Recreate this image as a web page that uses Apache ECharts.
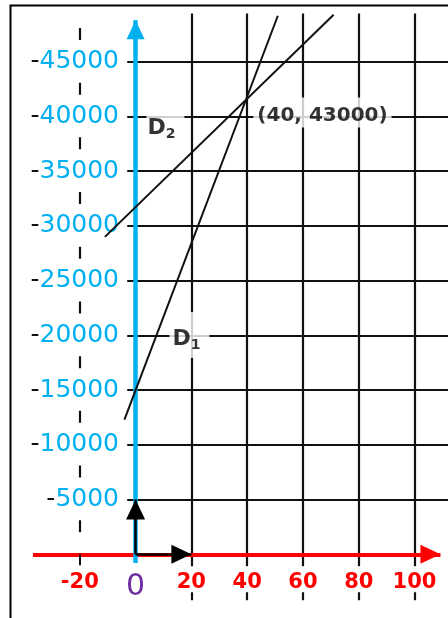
<!DOCTYPE html>
<html lang="en">
<head>
<meta charset="UTF-8">
<title>D1 / D2</title>
<script src="https://cdn.jsdelivr.net/npm/echarts@6/dist/echarts.min.js"></script>
<style>
    html, body { margin: 0; padding: 0; background: #fff; overflow: hidden; }
    #container { width: 448px; height: 618px; }
</style>
</head>
<body>
<div id="container"></div>
<script>
    // ---- data ----
    var xTicks = [-20, 0, 20, 40, 60, 80, 100];
    var yTicks = [5000, 10000, 15000, 20000, 25000, 30000, 35000, 40000, 45000];
    var d1 = [[-4, 12300], [51, 49200]];
    var d2 = [[-11, 29000], [71, 49300]];
    var meet = [40, 43000];
    var unitI = [20, 0];
    var unitJ = [0, 5000];

    // ---- look ----
    var blue = '#00B0F0', red = '#FF0000', purple = '#7030A0', ink = '#111';
    var font = 'DejaVu Sans';
    var xMin = -40, xMax = 112, yMin = -5000, yMax = 50000;

    // how far the drawn lines run
    var hFrom = -3, vTop = 49400, vBottom = -4200, dashTop = 48360;
    var blueFrom = -800, blueTip = 48800, redFrom = -36.8, redTip = 109.3;

    // triangle whose tip sits at the symbol centre
    var arrow = 'path://M0,0 L0,0 M40,0 L40,0 M20,20 L29.5,40 L10.5,40 Z';

    var grid = [];
    yTicks.forEach(function (y) {
        grid.push({ coords: [[hFrom, y], [xMax, y]] });
    });
    xTicks.filter(function (x) { return x > 0; }).forEach(function (x) {
        grid.push({ coords: [[x, vBottom], [x, vTop]] });
    });

    var shadow = {
        textShadowColor: 'rgba(225,135,0,0.75)',
        textShadowBlur: 0,
        textShadowOffsetX: -1,
        textShadowOffsetY: 1
    };

    var richD = {
        d: Object.assign({ fontSize: 22, fontWeight: 'bold', color: '#000', fontFamily: font, lineHeight: 26 }, shadow),
        s: Object.assign({ fontSize: 14, fontWeight: 'bold', color: '#000', fontFamily: font, lineHeight: 14, verticalAlign: 'bottom' }, shadow)
    };

    var notes = [
        { value: [10.7, 39040], text: '{d|D}{s|2}', padding: [2, 9, 0, 1] },
        { value: [19.3, 20035], text: '{d|D}{s|1}', padding: [14, 9, 6, 3] },
        { value: [67, 40360], text: '(' + meet[0] + ', ' + meet[1] + ')', padding: [8, 4, 2, 4] }
    ];

    var dom = document.getElementById('container');
    var myChart = echarts.init(dom, null, { renderer: 'canvas' });

    var option = {
        animation: false,
        backgroundColor: '#fff',
        grid: { left: 24, top: 7, width: 425.6, height: 602, containLabel: false },
        xAxis: {
            type: 'value', min: xMin, max: xMax, interval: 20, offset: -54.7, z: 10,
            axisLine: { show: false, onZero: false },
            splitLine: { show: false },
            axisTick: { show: true, customValues: [-20], length: 11, lineStyle: { color: ink, width: 2 } },
            axisLabel: {
                margin: 12,
                backgroundColor: '#fff',
                padding: [6, 3, 0, 3],
                customValues: xTicks,
                formatter: function (v) {
                    if (xTicks.indexOf(v) < 0) return '';
                    return v === 0 ? '{p|0}' : '{r|' + v + '}';
                },
                rich: {
                    r: { color: red, fontSize: 21, fontWeight: 'bold', fontFamily: font, lineHeight: 20 },
                    p: { color: purple, fontSize: 30, fontFamily: font, lineHeight: 30 }
                }
            }
        },
        yAxis: {
            type: 'value', min: yMin, max: yMax, interval: 5000, offset: -112, z: 1,
            axisLine: { show: false, onZero: false },
            splitLine: { show: false },
            axisTick: { show: false },
            axisLabel: {
                margin: 17,
                customValues: yTicks,
                formatter: function (v) {
                    if (yTicks.indexOf(v) < 0) return '';
                    return '{t|-}{v|' + v + '}';
                },
                rich: {
                    t: { color: ink, fontSize: 25, fontFamily: font },
                    v: { color: blue, fontSize: 25, fontFamily: font }
                }
            }
        },
        graphic: [{
            type: 'rect', left: 8, top: 3, z: 100,
            shape: { width: 500, height: 700 },
            style: { fill: 'none', stroke: '#000', lineWidth: 2 }
        }],
        series: [
            {
                name: 'grid', type: 'lines', coordinateSystem: 'cartesian2d', z: 2,
                lineStyle: { color: ink, width: 2.2, opacity: 1 },
                data: grid
            },
            {
                name: 'x=-20', type: 'lines', coordinateSystem: 'cartesian2d', z: 2,
                lineStyle: { color: ink, width: 2.2, opacity: 1, type: [12, 42.7], dashOffset: 41.4 },
                data: [{ coords: [[xTicks[0], vBottom], [xTicks[0], dashTop]] }]
            },
            {
                name: 'x axis', type: 'lines', coordinateSystem: 'cartesian2d', z: 3,
                symbol: ['none', arrow], symbolSize: 40,
                lineStyle: { color: red, width: 4, opacity: 1 },
                data: [{ coords: [[redFrom, 0], [redTip, 0]] }]
            },
            {
                name: 'y axis', type: 'lines', coordinateSystem: 'cartesian2d', z: 4,
                symbol: ['none', arrow], symbolSize: 38,
                lineStyle: { color: blue, width: 4.5, opacity: 1 },
                data: [{ coords: [[0, blueFrom], [0, blueTip]] }]
            },
            {
                name: 'D1', type: 'line', z: 5, showSymbol: false, data: d1,
                lineStyle: { color: ink, width: 2 }
            },
            {
                name: 'D2', type: 'line', z: 5, showSymbol: false, data: d2,
                lineStyle: { color: ink, width: 2 }
            },
            {
                name: 'unit vectors', type: 'lines', coordinateSystem: 'cartesian2d', z: 6,
                symbol: ['none', arrow], symbolSize: 40,
                lineStyle: { color: '#000', width: 2.5, opacity: 1 },
                data: [{ coords: [[0, 0], unitJ] }, { coords: [[0, 0], unitI] }]
            },
            {
                name: 'notes', type: 'scatter', z: 20, symbolSize: 0,
                data: notes.map(function (n) {
                    return {
                        value: n.value,
                        label: Object.assign({
                            show: true, position: 'inside', formatter: n.text,
                            backgroundColor: '#fff', padding: n.padding,
                            fontSize: 20, fontWeight: 'bold', color: '#000', fontFamily: font,
                            rich: richD
                        }, shadow)
                    };
                })
            }
        ]
    };
    if (option && typeof option === 'object') {
        myChart.setOption(option);
    }
</script>
</body>
</html>
